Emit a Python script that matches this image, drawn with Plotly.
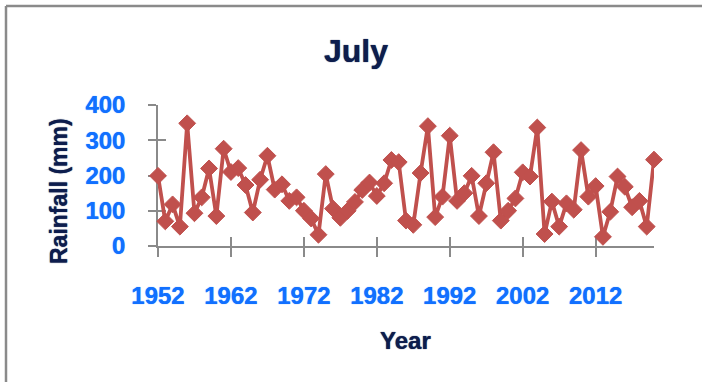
import plotly.graph_objects as go

# July rainfall series, 1952-2020
years = list(range(1952, 2021))
rainfall = [
    199, 70, 118, 55, 348, 93, 138, 220, 85, 276,
    210, 221, 173, 95, 188, 256, 160, 175, 128, 138,
    100, 78, 32, 204, 106, 80, 100, 125, 159, 180,
    142, 178, 244, 238, 72, 60, 207, 340, 82, 140,
    313, 128, 150, 199, 85, 178, 266, 72, 100, 135,
    209, 197, 336, 34, 126, 55, 121, 103, 272, 140,
    170, 26, 97, 197, 168, 110, 128, 55, 245,
]

x_ticks = [1952, 1962, 1972, 1982, 1992, 2002, 2012]
y_ticks = [0, 100, 200, 300, 400]

W, H = 702, 382
L, R, T, B = 158, 48, 105, 136
pw, ph = W - L - R, H - T - B

FONT = "Liberation Sans, Arial, sans-serif"
NAVY = "#0d1d4d"
BLUE = "#1170ff"
AXIS = "#8a8a8a"
RED = "#c0504d"

fig = go.Figure()
fig.add_trace(go.Scatter(
    x=years, y=rainfall, mode="lines+markers",
    line=dict(color=RED, width=3.8),
    marker=dict(symbol="diamond", size=13, color=RED,
                line=dict(color=RED, width=1)),
    cliponaxis=False, hoverinfo="x+y", showlegend=False,
))
# invisible companion trace so the inner-tick axes get drawn
fig.add_trace(go.Scatter(
    x=[years[0]], y=[0], xaxis="x2", yaxis="y2", mode="markers",
    marker=dict(opacity=0), hoverinfo="skip", showlegend=False,
))

x_range = [years[0], years[-1]]
y_range = [0, 400]

tick_font = dict(family=FONT, size=24, color=BLUE, weight="bold",
                 shadow="0px 0px 0.8px " + BLUE)
navy_font = dict(family=FONT, color=NAVY, weight="bold",
                 shadow="0px 0px 1px " + NAVY)

fig.update_layout(
    width=W, height=H,
    margin=dict(l=L, r=R, t=T, b=B),
    paper_bgcolor="white", plot_bgcolor="white",
    xaxis=dict(
        range=x_range, tickvals=x_ticks, ticktext=[str(v) for v in x_ticks],
        showgrid=False, zeroline=False, showline=True, linecolor=AXIS, linewidth=1.5,
        ticks="outside", ticklen=9, tickwidth=1.5, tickcolor=AXIS,
        ticklabelstandoff=18, layer="below traces",
        tickfont=tick_font,
    ),
    yaxis=dict(
        range=y_range, tickvals=y_ticks, ticktext=[str(v) for v in y_ticks],
        showgrid=False, zeroline=False, showline=True, linecolor=AXIS, linewidth=1.5,
        ticks="outside", ticklen=8, tickwidth=1.5, tickcolor=AXIS,
        ticklabelstandoff=18, layer="below traces",
        tickfont=tick_font,
    ),
    xaxis2=dict(
        range=x_range, tickvals=x_ticks, overlaying="x", anchor="y2",
        showgrid=False, zeroline=False, showline=False, showticklabels=False,
        ticks="inside", ticklen=9, tickwidth=1.5, tickcolor=AXIS,
        layer="below traces",
    ),
    yaxis2=dict(
        range=y_range, tickvals=y_ticks, overlaying="y", anchor="x2",
        showgrid=False, zeroline=False, showline=False, showticklabels=False,
        ticks="inside", ticklen=8, tickwidth=1.5, tickcolor=AXIS,
        layer="below traces",
    ),
    title=dict(
        text="July", x=356 / W, xref="container", xanchor="center",
        y=1 - 51 / H, yref="container", yanchor="middle",
        font=dict(navy_font, size=32),
    ),
)

def px_x(p):
    return (p - L) / pw

def px_y(p):
    return (H - B - p) / ph

fig.add_annotation(
    text="Year", xref="paper", yref="paper", x=px_x(405), y=px_y(340),
    showarrow=False, xanchor="center", yanchor="middle",
    font=dict(navy_font, size=24),
)
fig.add_annotation(
    text="Rainfall (mm)", xref="paper", yref="paper", x=px_x(59), y=px_y(191),
    showarrow=False, xanchor="center", yanchor="middle", textangle=-90,
    font=dict(navy_font, size=23),
)

# chart frame: top and left edges
fig.add_shape(type="line", xref="paper", yref="paper",
              x0=px_x(6), x1=px_x(W + 5), y0=px_y(6), y1=px_y(6),
              line=dict(color=AXIS, width=2.5))
fig.add_shape(type="line", xref="paper", yref="paper",
              x0=px_x(6), x1=px_x(6), y0=px_y(6), y1=px_y(H + 5),
              line=dict(color=AXIS, width=2.5))

fig.write_html("out.html")
